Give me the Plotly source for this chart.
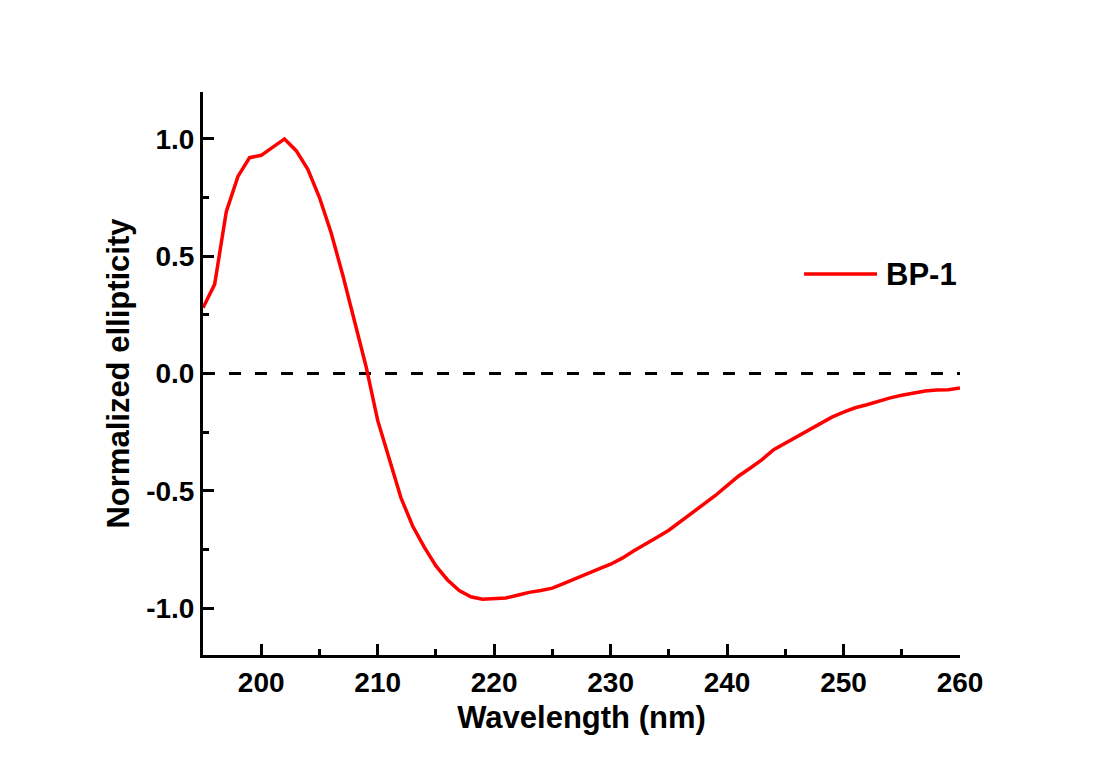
import plotly.graph_objects as go

wavelength = list(range(195, 261))
ellipticity = [
    0.28, 0.38, 0.69, 0.84, 0.92, 0.93, 0.965, 1.00, 0.95, 0.87,
    0.75, 0.60, 0.42, 0.23, 0.03, -0.20, -0.37, -0.53, -0.65, -0.74,
    -0.82, -0.88, -0.925, -0.952, -0.962, -0.960, -0.957, -0.945, -0.933, -0.925,
    -0.915, -0.895, -0.873, -0.852, -0.833, -0.813, -0.787, -0.756, -0.725, -0.698,
    -0.668, -0.632, -0.596, -0.560, -0.520, -0.478, -0.437, -0.403, -0.367, -0.325,
    -0.297, -0.270, -0.244, -0.213, -0.186, -0.165, -0.146, -0.133, -0.118, -0.104,
    -0.093, -0.083, -0.075, -0.070, -0.069, -0.062,
]
zero_x = [195, 260]
zero_y = [0, 0]
x_tickvals = [200, 210, 220, 230, 240, 250, 260]
x_ticktext = ["200", "210", "220", "230", "240", "250", "260"]
y_tickvals = [-1.0, -0.5, 0.0, 0.5, 1.0]
y_ticktext = ["-1.0", "-0.5", "0.0", "0.5", "1.0"]
series_name = "BP-1"

FONT = "Liberation Sans, Arial, sans-serif"

fig = go.Figure()
fig.add_trace(go.Scatter(x=zero_x, y=zero_y, mode="lines",
                         line=dict(color="black", width=3, dash="12px,14px"),
                         showlegend=False, hoverinfo="skip"))
fig.add_trace(go.Scatter(x=wavelength, y=ellipticity, mode="lines",
                         line=dict(color="#ff0000", width=3.5),
                         name=series_name, showlegend=False))

# legend drawn as key line + label
fig.add_shape(type="line", xref="paper", yref="paper",
              x0=(804 - 203) / 757, x1=(877 - 203) / 757,
              y0=(655 - 274) / 563, y1=(655 - 274) / 563,
              line=dict(color="#ff0000", width=3.5))
fig.add_annotation(xref="paper", yref="paper", x=(884 - 203) / 757, y=(655 - 274) / 563,
                   text=series_name, showarrow=False, xanchor="left", yanchor="middle",
                   font=dict(family=FONT, size=31, color="black", weight="bold"))

axis_common = dict(showline=True, linecolor="black", linewidth=3, mirror=False,
                   ticks="inside", ticklen=11, tickwidth=3, tickcolor="black",
                   showgrid=False, zeroline=False,
                   tickfont=dict(family=FONT, size=28, color="black", weight="bold"))

fig.update_xaxes(range=[195, 260], tickvals=x_tickvals, ticktext=x_ticktext,
                 minor=dict(dtick=5, tick0=0, ticks="inside", ticklen=6, tickwidth=3, tickcolor="black"),
                 title=dict(text="Wavelength (nm)", standoff=10,
                            font=dict(family=FONT, size=31, color="black", weight="bold")),
                 **axis_common)
fig.update_yaxes(range=[-1.2, 1.2], tickvals=y_tickvals, ticktext=y_ticktext,
                 minor=dict(dtick=0.25, tick0=0, ticks="inside", ticklen=6, tickwidth=3, tickcolor="black"),
                 title=dict(text="Normalized ellipticity", standoff=8,
                            font=dict(family=FONT, size=31, color="black", weight="bold")),
                 **axis_common)

fig.update_layout(width=1098, height=775, autosize=False,
                  margin=dict(l=203, r=138, t=92, b=120),
                  plot_bgcolor="white", paper_bgcolor="white")

fig.write_html("out.html")
